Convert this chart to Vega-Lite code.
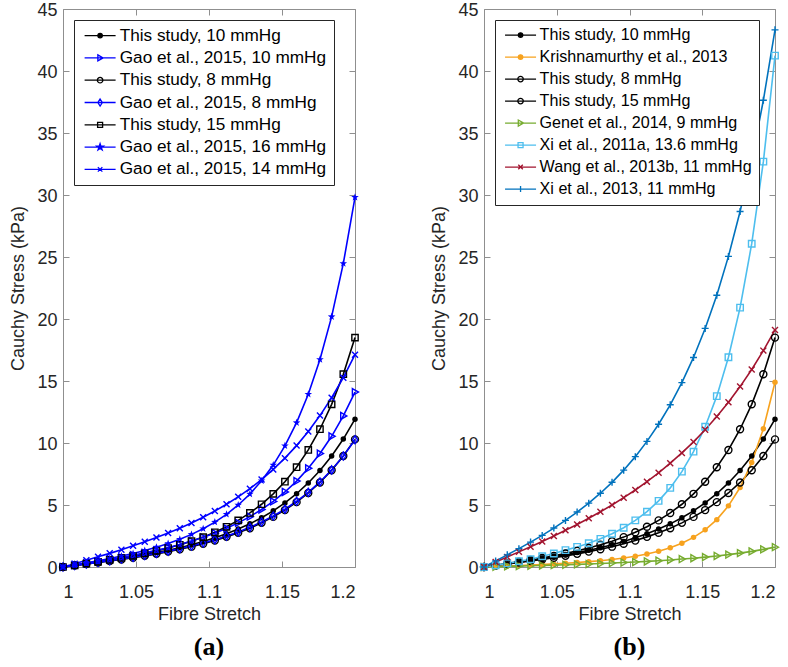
{
  "$schema": "https://vega.github.io/schema/vega-lite/v6.json",
  "background": "white",
  "padding": {"left": 9, "top": 0, "right": 5, "bottom": 5},
  "config": {
    "font": "Liberation Sans",
    "view": {"stroke": "#8f8f8f", "strokeWidth": 1},
    "axis": {"domainColor": "#8f8f8f", "tickColor": "#8f8f8f", "tickSize": -6, "labelColor": "#262626", "labelFontSize": 18, "titleFontSize": 18, "titleColor": "#262626", "titleFontWeight": "normal", "grid": false, "labelFont": "Liberation Sans", "titleFont": "Liberation Sans"},
    "axisX": {"labelPadding": 22, "titlePadding": 4},
    "axisY": {"labelPadding": 12, "titlePadding": 9, "labelOffset": 1},
    "point": {"strokeWidth": 1.4, "opacity": 1},
    "legend": {"orient": "top-left", "offset": 11, "labelColor": "#000000", "labelFont": "Liberation Sans", "strokeColor": "#262626", "fillColor": "white", "padding": 7, "symbolSize": 100, "symbolOffset": 10.5, "labelOffset": 11, "labelLimit": 400, "labelBaseline": "middle"}
  },
  "datasets": {
    "d": [
      {"s":"T10","x":1,"y":0},{"s":"T10","x":1.008,"y":0.13},{"s":"T10","x":1.016,"y":0.26},{"s":"T10","x":1.024,"y":0.39},{"s":"T10","x":1.032,"y":0.52},{"s":"T10","x":1.04,"y":0.67},{"s":"T10","x":1.048,"y":0.82},{"s":"T10","x":1.056,"y":0.98},{"s":"T10","x":1.064,"y":1.16},{"s":"T10","x":1.072,"y":1.35},{"s":"T10","x":1.08,"y":1.56},{"s":"T10","x":1.088,"y":1.8},{"s":"T10","x":1.096,"y":2.06},{"s":"T10","x":1.104,"y":2.35},{"s":"T10","x":1.112,"y":2.68},{"s":"T10","x":1.12,"y":3.06},{"s":"T10","x":1.128,"y":3.48},{"s":"T10","x":1.136,"y":3.97},{"s":"T10","x":1.144,"y":4.53},{"s":"T10","x":1.152,"y":5.17},{"s":"T10","x":1.16,"y":5.91},{"s":"T10","x":1.168,"y":6.78},{"s":"T10","x":1.176,"y":7.78},{"s":"T10","x":1.184,"y":8.95},{"s":"T10","x":1.192,"y":10.32},{"s":"T10","x":1.2,"y":11.92},
      {"s":"T8","x":1,"y":0},{"s":"T8","x":1.008,"y":0.12},{"s":"T8","x":1.016,"y":0.24},{"s":"T8","x":1.024,"y":0.36},{"s":"T8","x":1.032,"y":0.48},{"s":"T8","x":1.04,"y":0.61},{"s":"T8","x":1.048,"y":0.75},{"s":"T8","x":1.056,"y":0.9},{"s":"T8","x":1.064,"y":1.06},{"s":"T8","x":1.072,"y":1.24},{"s":"T8","x":1.08,"y":1.43},{"s":"T8","x":1.088,"y":1.64},{"s":"T8","x":1.096,"y":1.87},{"s":"T8","x":1.104,"y":2.13},{"s":"T8","x":1.112,"y":2.43},{"s":"T8","x":1.12,"y":2.76},{"s":"T8","x":1.128,"y":3.13},{"s":"T8","x":1.136,"y":3.56},{"s":"T8","x":1.144,"y":4.04},{"s":"T8","x":1.152,"y":4.59},{"s":"T8","x":1.16,"y":5.23},{"s":"T8","x":1.168,"y":5.97},{"s":"T8","x":1.176,"y":6.82},{"s":"T8","x":1.184,"y":7.8},{"s":"T8","x":1.192,"y":8.95},{"s":"T8","x":1.2,"y":10.29},
      {"s":"T15","x":1,"y":0},{"s":"T15","x":1.008,"y":0.14},{"s":"T15","x":1.016,"y":0.28},{"s":"T15","x":1.024,"y":0.42},{"s":"T15","x":1.032,"y":0.57},{"s":"T15","x":1.04,"y":0.73},{"s":"T15","x":1.048,"y":0.9},{"s":"T15","x":1.056,"y":1.09},{"s":"T15","x":1.064,"y":1.3},{"s":"T15","x":1.072,"y":1.53},{"s":"T15","x":1.08,"y":1.79},{"s":"T15","x":1.088,"y":2.08},{"s":"T15","x":1.096,"y":2.41},{"s":"T15","x":1.104,"y":2.8},{"s":"T15","x":1.112,"y":3.24},{"s":"T15","x":1.12,"y":3.76},{"s":"T15","x":1.128,"y":4.36},{"s":"T15","x":1.136,"y":5.06},{"s":"T15","x":1.144,"y":5.9},{"s":"T15","x":1.152,"y":6.88},{"s":"T15","x":1.16,"y":8.05},{"s":"T15","x":1.168,"y":9.44},{"s":"T15","x":1.176,"y":11.11},{"s":"T15","x":1.184,"y":13.12},{"s":"T15","x":1.192,"y":15.55},{"s":"T15","x":1.2,"y":18.5},
      {"s":"G8","x":1,"y":0},{"s":"G8","x":1.008,"y":0.12},{"s":"G8","x":1.016,"y":0.25},{"s":"G8","x":1.024,"y":0.37},{"s":"G8","x":1.032,"y":0.5},{"s":"G8","x":1.04,"y":0.64},{"s":"G8","x":1.048,"y":0.78},{"s":"G8","x":1.056,"y":0.94},{"s":"G8","x":1.064,"y":1.1},{"s":"G8","x":1.072,"y":1.28},{"s":"G8","x":1.08,"y":1.48},{"s":"G8","x":1.088,"y":1.69},{"s":"G8","x":1.096,"y":1.93},{"s":"G8","x":1.104,"y":2.2},{"s":"G8","x":1.112,"y":2.49},{"s":"G8","x":1.12,"y":2.83},{"s":"G8","x":1.128,"y":3.2},{"s":"G8","x":1.136,"y":3.63},{"s":"G8","x":1.144,"y":4.11},{"s":"G8","x":1.152,"y":4.66},{"s":"G8","x":1.16,"y":5.3},{"s":"G8","x":1.168,"y":6.02},{"s":"G8","x":1.176,"y":6.86},{"s":"G8","x":1.184,"y":7.83},{"s":"G8","x":1.192,"y":8.95},{"s":"G8","x":1.2,"y":10.26},
      {"s":"G10","x":1,"y":0},{"s":"G10","x":1.008,"y":0.15},{"s":"G10","x":1.016,"y":0.29},{"s":"G10","x":1.024,"y":0.45},{"s":"G10","x":1.032,"y":0.6},{"s":"G10","x":1.04,"y":0.77},{"s":"G10","x":1.048,"y":0.95},{"s":"G10","x":1.056,"y":1.14},{"s":"G10","x":1.064,"y":1.34},{"s":"G10","x":1.072,"y":1.56},{"s":"G10","x":1.08,"y":1.81},{"s":"G10","x":1.088,"y":2.09},{"s":"G10","x":1.096,"y":2.39},{"s":"G10","x":1.104,"y":2.73},{"s":"G10","x":1.112,"y":3.12},{"s":"G10","x":1.12,"y":3.56},{"s":"G10","x":1.128,"y":4.06},{"s":"G10","x":1.136,"y":4.64},{"s":"G10","x":1.144,"y":5.29},{"s":"G10","x":1.152,"y":6.05},{"s":"G10","x":1.16,"y":6.93},{"s":"G10","x":1.168,"y":7.96},{"s":"G10","x":1.176,"y":9.15},{"s":"G10","x":1.184,"y":10.54},{"s":"G10","x":1.192,"y":12.18},{"s":"G10","x":1.2,"y":14.11},
      {"s":"G16","x":1,"y":0},{"s":"G16","x":1.008,"y":0.16},{"s":"G16","x":1.016,"y":0.33},{"s":"G16","x":1.024,"y":0.5},{"s":"G16","x":1.032,"y":0.68},{"s":"G16","x":1.04,"y":0.88},{"s":"G16","x":1.048,"y":1.09},{"s":"G16","x":1.056,"y":1.33},{"s":"G16","x":1.064,"y":1.6},{"s":"G16","x":1.072,"y":1.89},{"s":"G16","x":1.08,"y":2.24},{"s":"G16","x":1.088,"y":2.63},{"s":"G16","x":1.096,"y":3.09},{"s":"G16","x":1.104,"y":3.62},{"s":"G16","x":1.112,"y":4.25},{"s":"G16","x":1.12,"y":5},{"s":"G16","x":1.128,"y":5.88},{"s":"G16","x":1.136,"y":6.95},{"s":"G16","x":1.144,"y":8.22},{"s":"G16","x":1.152,"y":9.77},{"s":"G16","x":1.16,"y":11.64},{"s":"G16","x":1.168,"y":13.93},{"s":"G16","x":1.176,"y":16.73},{"s":"G16","x":1.184,"y":20.19},{"s":"G16","x":1.192,"y":24.48},{"s":"G16","x":1.2,"y":29.81},
      {"s":"G14","x":1,"y":0},{"s":"G14","x":1.008,"y":0.27},{"s":"G14","x":1.016,"y":0.54},{"s":"G14","x":1.024,"y":0.82},{"s":"G14","x":1.032,"y":1.1},{"s":"G14","x":1.04,"y":1.4},{"s":"G14","x":1.048,"y":1.71},{"s":"G14","x":1.056,"y":2.03},{"s":"G14","x":1.064,"y":2.37},{"s":"G14","x":1.072,"y":2.74},{"s":"G14","x":1.08,"y":3.13},{"s":"G14","x":1.088,"y":3.55},{"s":"G14","x":1.096,"y":4.01},{"s":"G14","x":1.104,"y":4.51},{"s":"G14","x":1.112,"y":5.06},{"s":"G14","x":1.12,"y":5.66},{"s":"G14","x":1.128,"y":6.32},{"s":"G14","x":1.136,"y":7.05},{"s":"G14","x":1.144,"y":7.87},{"s":"G14","x":1.152,"y":8.78},{"s":"G14","x":1.16,"y":9.79},{"s":"G14","x":1.168,"y":10.93},{"s":"G14","x":1.176,"y":12.21},{"s":"G14","x":1.184,"y":13.65},{"s":"G14","x":1.192,"y":15.27},{"s":"G14","x":1.2,"y":17.12},
      {"s":"K","x":1,"y":0},{"s":"K","x":1.008,"y":0.04},{"s":"K","x":1.016,"y":0.08},{"s":"K","x":1.024,"y":0.12},{"s":"K","x":1.032,"y":0.16},{"s":"K","x":1.04,"y":0.2},{"s":"K","x":1.048,"y":0.25},{"s":"K","x":1.056,"y":0.3},{"s":"K","x":1.064,"y":0.36},{"s":"K","x":1.072,"y":0.43},{"s":"K","x":1.08,"y":0.51},{"s":"K","x":1.088,"y":0.61},{"s":"K","x":1.096,"y":0.73},{"s":"K","x":1.104,"y":0.87},{"s":"K","x":1.112,"y":1.05},{"s":"K","x":1.12,"y":1.27},{"s":"K","x":1.128,"y":1.55},{"s":"K","x":1.136,"y":1.92},{"s":"K","x":1.144,"y":2.39},{"s":"K","x":1.152,"y":3},{"s":"K","x":1.16,"y":3.82},{"s":"K","x":1.168,"y":4.93},{"s":"K","x":1.176,"y":6.41},{"s":"K","x":1.184,"y":8.42},{"s":"K","x":1.192,"y":11.15},{"s":"K","x":1.2,"y":14.9},
      {"s":"GN","x":1,"y":0},{"s":"GN","x":1.008,"y":0.02},{"s":"GN","x":1.016,"y":0.05},{"s":"GN","x":1.024,"y":0.07},{"s":"GN","x":1.032,"y":0.1},{"s":"GN","x":1.04,"y":0.12},{"s":"GN","x":1.048,"y":0.15},{"s":"GN","x":1.056,"y":0.18},{"s":"GN","x":1.064,"y":0.21},{"s":"GN","x":1.072,"y":0.24},{"s":"GN","x":1.08,"y":0.28},{"s":"GN","x":1.088,"y":0.32},{"s":"GN","x":1.096,"y":0.36},{"s":"GN","x":1.104,"y":0.4},{"s":"GN","x":1.112,"y":0.45},{"s":"GN","x":1.12,"y":0.51},{"s":"GN","x":1.128,"y":0.57},{"s":"GN","x":1.136,"y":0.64},{"s":"GN","x":1.144,"y":0.71},{"s":"GN","x":1.152,"y":0.8},{"s":"GN","x":1.16,"y":0.89},{"s":"GN","x":1.168,"y":1},{"s":"GN","x":1.176,"y":1.12},{"s":"GN","x":1.184,"y":1.26},{"s":"GN","x":1.192,"y":1.42},{"s":"GN","x":1.2,"y":1.6},
      {"s":"X11","x":1,"y":0},{"s":"X11","x":1.008,"y":0.14},{"s":"X11","x":1.016,"y":0.29},{"s":"X11","x":1.024,"y":0.46},{"s":"X11","x":1.032,"y":0.63},{"s":"X11","x":1.04,"y":0.87},{"s":"X11","x":1.048,"y":1.09},{"s":"X11","x":1.056,"y":1.36},{"s":"X11","x":1.064,"y":1.62},{"s":"X11","x":1.072,"y":1.92},{"s":"X11","x":1.08,"y":2.27},{"s":"X11","x":1.088,"y":2.68},{"s":"X11","x":1.096,"y":3.17},{"s":"X11","x":1.104,"y":3.76},{"s":"X11","x":1.112,"y":4.46},{"s":"X11","x":1.12,"y":5.33},{"s":"X11","x":1.128,"y":6.38},{"s":"X11","x":1.136,"y":7.69},{"s":"X11","x":1.144,"y":9.3},{"s":"X11","x":1.152,"y":11.31},{"s":"X11","x":1.16,"y":13.78},{"s":"X11","x":1.168,"y":16.92},{"s":"X11","x":1.176,"y":20.92},{"s":"X11","x":1.184,"y":26.07},{"s":"X11","x":1.192,"y":32.69},{"s":"X11","x":1.2,"y":41.24},
      {"s":"W","x":1,"y":0},{"s":"W","x":1.008,"y":0.4},{"s":"W","x":1.016,"y":0.81},{"s":"W","x":1.024,"y":1.22},{"s":"W","x":1.032,"y":1.63},{"s":"W","x":1.04,"y":2.06},{"s":"W","x":1.048,"y":2.5},{"s":"W","x":1.056,"y":2.96},{"s":"W","x":1.064,"y":3.43},{"s":"W","x":1.072,"y":3.93},{"s":"W","x":1.08,"y":4.45},{"s":"W","x":1.088,"y":5},{"s":"W","x":1.096,"y":5.59},{"s":"W","x":1.104,"y":6.21},{"s":"W","x":1.112,"y":6.88},{"s":"W","x":1.12,"y":7.6},{"s":"W","x":1.128,"y":8.37},{"s":"W","x":1.136,"y":9.2},{"s":"W","x":1.144,"y":10.09},{"s":"W","x":1.152,"y":11.07},{"s":"W","x":1.16,"y":12.13},{"s":"W","x":1.168,"y":13.28},{"s":"W","x":1.176,"y":14.55},{"s":"W","x":1.184,"y":15.93},{"s":"W","x":1.192,"y":17.45},{"s":"W","x":1.2,"y":19.12},
      {"s":"X13","x":1,"y":0},{"s":"X13","x":1.008,"y":0.49},{"s":"X13","x":1.016,"y":0.98},{"s":"X13","x":1.024,"y":1.48},{"s":"X13","x":1.032,"y":2.01},{"s":"X13","x":1.04,"y":2.55},{"s":"X13","x":1.048,"y":3.14},{"s":"X13","x":1.056,"y":3.76},{"s":"X13","x":1.064,"y":4.43},{"s":"X13","x":1.072,"y":5.15},{"s":"X13","x":1.08,"y":5.95},{"s":"X13","x":1.088,"y":6.83},{"s":"X13","x":1.096,"y":7.81},{"s":"X13","x":1.104,"y":8.9},{"s":"X13","x":1.112,"y":10.13},{"s":"X13","x":1.12,"y":11.51},{"s":"X13","x":1.128,"y":13.08},{"s":"X13","x":1.136,"y":14.87},{"s":"X13","x":1.144,"y":16.9},{"s":"X13","x":1.152,"y":19.24},{"s":"X13","x":1.16,"y":21.92},{"s":"X13","x":1.168,"y":25.05},{"s":"X13","x":1.176,"y":28.67},{"s":"X13","x":1.184,"y":32.78},{"s":"X13","x":1.192,"y":37.64},{"s":"X13","x":1.2,"y":43.32}
    ]
  },
  "spacing": 68,
  "resolve": {"scale": {"color": "independent"}, "legend": {"color": "independent"}},
  "hconcat": [
    {
      "width": 292,
      "height": 558,
      "title": {"text": "(a)", "orient": "bottom", "font": "Liberation Serif", "fontSize": 26, "fontWeight": "bold", "color": "#000000", "offset": 11},
      "data": {"name": "d"},
      "transform": [{"filter": {"field": "s", "oneOf": ["T10", "G10", "T8", "G8", "T15", "G16", "G14"]}}],
      "resolve": {"axis": {"x": "independent", "y": "independent"}},
      "encoding": {
        "x": {"field": "x", "type": "quantitative", "scale": {"domain": [1, 1.2], "nice": false, "zero": false}, "axis": null},
        "y": {"field": "y", "type": "quantitative", "scale": {"domain": [0, 45], "nice": false}, "axis": null}
      },
      "layer": [
        {
          "mark": {"type": "line", "strokeWidth": 1.6},
          "encoding": {
            "x": {"field": "x", "type": "quantitative", "scale": {"domain": [1, 1.2], "nice": false, "zero": false}, "axis": {"orient": "bottom", "title": "Fibre Stretch", "values": [1, 1.05, 1.1, 1.15, 1.2], "format": "~g", "domain": false}},
            "y": {"field": "y", "type": "quantitative", "scale": {"domain": [0, 45], "nice": false}, "axis": {"orient": "left", "title": "Cauchy Stress (kPa)", "values": [0, 5, 10, 15, 20, 25, 30, 35, 40, 45], "domain": false}},
            "color": {
              "field": "s", "type": "nominal",
              "scale": {"domain": ["T10", "G10", "T8", "G8", "T15", "G16", "G14"], "range": ["#000000", "#0000FF", "#000000", "#0000FF", "#000000", "#0000FF", "#0000FF"]},
              "legend": {
                "title": null,
                "labelFontSize": 17.2,
                "rowPadding": 4.3,
                "labelExpr": "{'T10':'This study, 10 mmHg','G10':'Gao et al., 2015, 10 mmHg','T8':'This study, 8 mmHg','G8':'Gao et al., 2015, 8 mmHg','T15':'This study, 15 mmHg','G16':'Gao et al., 2015, 16 mmHg','G14':'Gao et al., 2015, 14 mmHg'}[datum.value]",
                "encode": {
                  "symbols": {
                    "update": {
                      "shape": {"signal": "{'T10':'M0.45,0A0.45,0.45,0,1,1,-0.45,0A0.45,0.45,0,1,1,0.45,0ZM-3.1,0L3.1,0','G10':'M-0.45,-0.6L0.6,0L-0.45,0.6ZM-3.1,0L3.1,0','T8':'M0.55,0A0.55,0.55,0,1,1,-0.55,0A0.55,0.55,0,1,1,0.55,0ZM-3.1,0L3.1,0','G8':'M0,-0.7L0.45,0L0,0.7L-0.45,0ZM-3.1,0L3.1,0','T15':'M-0.5,-0.5L0.5,-0.5L0.5,0.5L-0.5,0.5ZM-3.1,0L3.1,0','G16':'M0,-0.7L0.159,-0.218L0.666,-0.216L0.257,0.083L0.411,0.566L0,0.27L-0.411,0.566L-0.257,0.083L-0.666,-0.216L-0.159,-0.218ZM-3.1,0L3.1,0','G14':'M-0.45,-0.45L0.45,0.45M-0.45,0.45L0.45,-0.45M-3.1,0L3.1,0'}[datum.value]"},
                      "stroke": {"signal": "indexof(datum.value, 'T') == 0 ? '#000000' : '#0000FF'"},
                      "fill": {"signal": "datum.value == 'T10' ? '#000000' : datum.value == 'G16' ? '#0000FF' : 'transparent'"},
                      "strokeWidth": {"value": 1.3},
                      "opacity": {"value": 1}
                    }
                  }
                }
              }
            }
          }
        },
        {
          "transform": [{"filter": {"field": "s", "equal": "T10"}}],
          "mark": {"type": "point", "shape": "circle", "filled": true, "color": "#000000", "size": 30},
          "encoding": {
            "x": {"field": "x", "type": "quantitative", "axis": {"orient": "top", "labels": false, "title": null, "values": [1, 1.05, 1.1, 1.15, 1.2], "domain": false}},
            "y": {"field": "y", "type": "quantitative", "axis": {"orient": "right", "labels": false, "title": null, "values": [0, 5, 10, 15, 20, 25, 30, 35, 40, 45], "domain": false}}
          }
        },
        {"transform": [{"filter": {"field": "s", "equal": "G10"}}], "mark": {"type": "point", "shape": "M-0.75,-1L1,0L-0.75,1Z", "filled": false, "color": "#0000FF", "size": 49}},
        {"transform": [{"filter": {"field": "s", "equal": "T8"}}], "mark": {"type": "point", "shape": "circle", "filled": false, "color": "#000000", "size": 49}},
        {"transform": [{"filter": {"field": "s", "equal": "G8"}}], "mark": {"type": "point", "shape": "M0,-1.15L0.75,0L0,1.15L-0.75,0Z", "filled": false, "color": "#0000FF", "size": 49}},
        {"transform": [{"filter": {"field": "s", "equal": "T15"}}], "mark": {"type": "point", "shape": "square", "filled": false, "color": "#000000", "size": 40}},
        {"transform": [{"filter": {"field": "s", "equal": "G16"}}], "mark": {"type": "point", "shape": "M0,-1L0.235,-0.324L0.951,-0.309L0.38,0.124L0.588,0.809L0,0.4L-0.588,0.809L-0.38,0.124L-0.951,-0.309L-0.235,-0.324Z", "filled": true, "color": "#0000FF", "size": 64}},
        {"transform": [{"filter": {"field": "s", "equal": "G14"}}], "mark": {"type": "point", "shape": "M-0.8,-0.8L0.8,0.8M-0.8,0.8L0.8,-0.8", "filled": false, "color": "#0000FF", "size": 56}}
      ]
    },
    {
      "width": 291,
      "height": 558,
      "title": {"text": "(b)", "orient": "bottom", "font": "Liberation Serif", "fontSize": 26, "fontWeight": "bold", "color": "#000000", "offset": 11},
      "data": {"name": "d"},
      "transform": [{"filter": {"field": "s", "oneOf": ["T10", "K", "T8", "T15", "GN", "X11", "W", "X13"]}}],
      "resolve": {"axis": {"x": "independent", "y": "independent"}},
      "encoding": {
        "x": {"field": "x", "type": "quantitative", "scale": {"domain": [1, 1.2], "nice": false, "zero": false}, "axis": null},
        "y": {"field": "y", "type": "quantitative", "scale": {"domain": [0, 45], "nice": false}, "axis": null}
      },
      "layer": [
        {
          "mark": {"type": "line", "strokeWidth": 1.6},
          "encoding": {
            "x": {"field": "x", "type": "quantitative", "scale": {"domain": [1, 1.2], "nice": false, "zero": false}, "axis": {"orient": "bottom", "title": "Fibre Stretch", "values": [1, 1.05, 1.1, 1.15, 1.2], "format": "~g", "domain": false}},
            "y": {"field": "y", "type": "quantitative", "scale": {"domain": [0, 45], "nice": false}, "axis": {"orient": "left", "title": "Cauchy Stress (kPa)", "values": [0, 5, 10, 15, 20, 25, 30, 35, 40, 45], "domain": false}},
            "color": {
              "field": "s", "type": "nominal",
              "scale": {"domain": ["T10", "K", "T8", "T15", "GN", "X11", "W", "X13"], "range": ["#000000", "#F7A21E", "#000000", "#000000", "#77AC30", "#4DBEEE", "#A2142F", "#0072BD"]},
              "legend": {
                "title": null,
                "labelFontSize": 16.1,
                "rowPadding": 5,
                "labelExpr": "{'T10':'This study, 10 mmHg','K':'Krishnamurthy et al., 2013','T8':'This study, 8 mmHg','T15':'This study, 15 mmHg','GN':'Genet et al., 2014, 9 mmHg','X11':'Xi et al., 2011a, 13.6 mmHg','W':'Wang et al., 2013b, 11 mmHg','X13':'Xi et al., 2013, 11 mmHg'}[datum.value]",
                "encode": {
                  "symbols": {
                    "update": {
                      "shape": {"signal": "{'T10':'M0.45,0A0.45,0.45,0,1,1,-0.45,0A0.45,0.45,0,1,1,0.45,0ZM-3.1,0L3.1,0','K':'M0.45,0A0.45,0.45,0,1,1,-0.45,0A0.45,0.45,0,1,1,0.45,0ZM-3.1,0L3.1,0','T8':'M0.55,0A0.55,0.55,0,1,1,-0.55,0A0.55,0.55,0,1,1,0.55,0ZM-3.1,0L3.1,0','T15':'M0.55,0A0.55,0.55,0,1,1,-0.55,0A0.55,0.55,0,1,1,0.55,0ZM-3.1,0L3.1,0','GN':'M-0.45,-0.6L0.6,0L-0.45,0.6ZM-3.1,0L3.1,0','X11':'M-0.5,-0.5L0.5,-0.5L0.5,0.5L-0.5,0.5ZM-3.1,0L3.1,0','W':'M-0.45,-0.45L0.45,0.45M-0.45,0.45L0.45,-0.45M-3.1,0L3.1,0','X13':'M0,-0.6L0,0.6M-3.1,0L3.1,0'}[datum.value]"},
                      "stroke": {"signal": "{'T10':'#000000','K':'#F7A21E','T8':'#000000','T15':'#000000','GN':'#77AC30','X11':'#4DBEEE','W':'#A2142F','X13':'#0072BD'}[datum.value]"},
                      "fill": {"signal": "datum.value == 'T10' ? '#000000' : datum.value == 'K' ? '#F7A21E' : 'transparent'"},
                      "strokeWidth": {"value": 1.3},
                      "opacity": {"value": 1}
                    }
                  }
                }
              }
            }
          }
        },
        {
          "transform": [{"filter": {"field": "s", "equal": "T10"}}],
          "mark": {"type": "point", "shape": "circle", "filled": true, "color": "#000000", "size": 30},
          "encoding": {
            "x": {"field": "x", "type": "quantitative", "axis": {"orient": "top", "labels": false, "title": null, "values": [1, 1.05, 1.1, 1.15, 1.2], "domain": false}},
            "y": {"field": "y", "type": "quantitative", "axis": {"orient": "right", "labels": false, "title": null, "values": [0, 5, 10, 15, 20, 25, 30, 35, 40, 45], "domain": false}}
          }
        },
        {"transform": [{"filter": {"field": "s", "equal": "K"}}], "mark": {"type": "point", "shape": "circle", "filled": true, "color": "#F7A21E", "size": 30}},
        {"transform": [{"filter": {"field": "s", "oneOf": ["T8", "T15"]}}], "mark": {"type": "point", "shape": "circle", "filled": false, "color": "#000000", "size": 49}},
        {"transform": [{"filter": {"field": "s", "equal": "GN"}}], "mark": {"type": "point", "shape": "M-0.75,-1L1,0L-0.75,1Z", "filled": false, "color": "#77AC30", "size": 49}},
        {"transform": [{"filter": {"field": "s", "equal": "X11"}}], "mark": {"type": "point", "shape": "square", "filled": false, "color": "#4DBEEE", "size": 42}},
        {"transform": [{"filter": {"field": "s", "equal": "W"}}], "mark": {"type": "point", "shape": "M-0.8,-0.8L0.8,0.8M-0.8,0.8L0.8,-0.8", "filled": false, "color": "#A2142F", "size": 56}},
        {"transform": [{"filter": {"field": "s", "equal": "X13"}}], "mark": {"type": "point", "shape": "M-1,0L1,0M0,-1L0,1", "filled": false, "color": "#0072BD", "size": 49}}
      ]
    }
  ]
}
